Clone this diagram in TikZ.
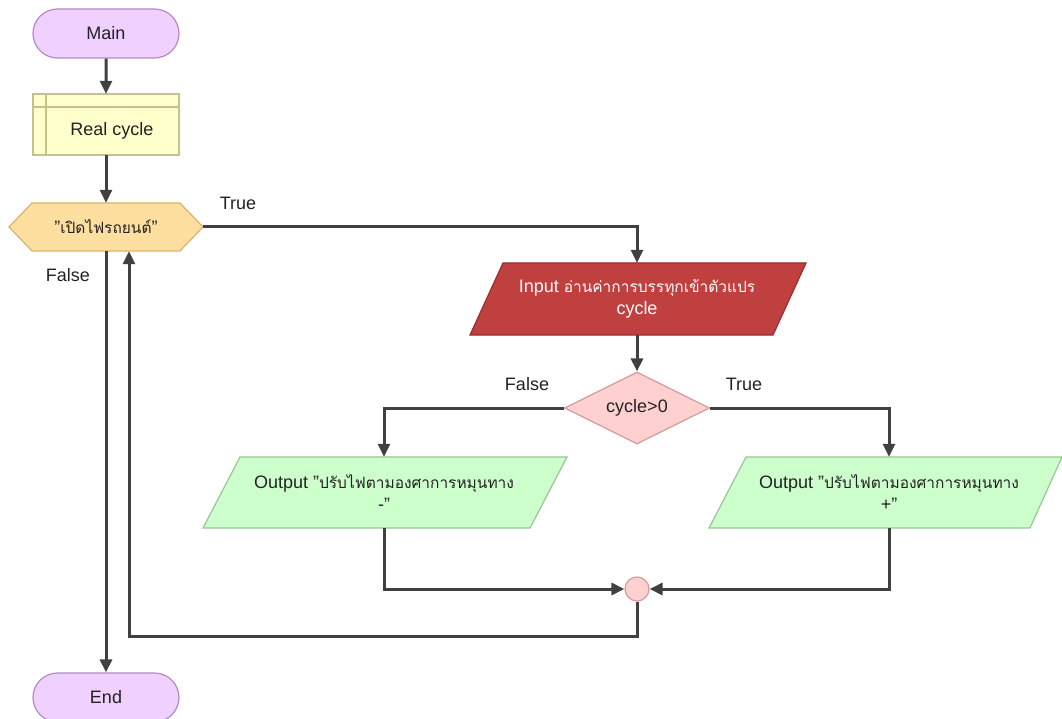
\documentclass[tikz,border=0pt]{standalone}
\usepackage{fontspec}
\setmainfont{Liberation Sans}[Ligatures=ResetAll]
\newfontfamily\thai[Script=Thai,Scale=0.86,Ligatures=ResetAll]{Loma}
\usetikzlibrary{arrows.meta,shapes.geometric,shapes.misc,calc}
\definecolor{ln}{HTML}{404040}
\definecolor{termF}{HTML}{EFD0FF}\definecolor{termD}{HTML}{B08CC0}
\definecolor{procF}{HTML}{FFFFCC}\definecolor{procD}{HTML}{C2C28A}
\definecolor{hexF}{HTML}{FFDF9F}\definecolor{hexD}{HTML}{D8B46C}
\definecolor{inF}{HTML}{C04040}\definecolor{inD}{HTML}{9A2E2E}
\definecolor{decF}{HTML}{FFD0D0}\definecolor{decD}{HTML}{D49A9A}
\definecolor{outF}{HTML}{CCFFCC}\definecolor{outD}{HTML}{98C498}
\definecolor{txt}{HTML}{222222}
\newcommand\dq{\symbol{34}}
\tikzset{
  every node/.style={font=\fontsize{18}{22}\selectfont, text=txt},
  term/.style={rounded rectangle, fill=termF, draw=termD, line width=1.2pt, minimum width=146pt, minimum height=49pt, inner sep=0pt},
  bare/.style={inner sep=0pt, align=center},
  conn/.style={draw=ln, line width=3pt, -{Triangle[length=13pt,width=12pt]}},
  lbl/.style={inner sep=0pt},
  shp/.style={line width=1.2pt},
}
\begin{document}
\begin{tikzpicture}[x=1pt,y=-1pt]
\useasboundingbox (0,0) rectangle (1062,719);
% Main
\node[term] (main) at (106,33.5) {Main};
% Real cycle
\draw[shp, fill=procF, draw=procD] (33,94) rectangle (179,155);
\draw[shp, draw=procD] (46,94) -- (46,155) (33,107) -- (179,107);
\node[bare, minimum width=146pt, minimum height=61pt] (real) at (106,124.5) {};
\node[bare] at (112,131) {Real cycle};
% Hexagon
\draw[shp, fill=hexF, draw=hexD] (9,227) -- (32,203) -- (180,203) -- (203,227) -- (180,251) -- (32,251) -- cycle;
\node[bare, minimum width=194pt, minimum height=48pt] (hex) at (106,227) {\dq{\thai เปิดไฟรถยนต์}\dq};
% Input
\draw[shp, fill=inF, draw=inD] (503,263) -- (806,263) -- (773,335) -- (470,335) -- cycle;
\node[bare, minimum width=300pt, minimum height=72pt, text=white] (in) at (637,299) {Input {\thai อ่านค่าการบรรทุกเข้าตัวแปร}\\cycle};
% Decision
\node[diamond, fill=decF, draw=decD, shp, minimum width=145pt, minimum height=72pt, inner sep=0pt, aspect=2] (dec) at (637,408) {cycle>0};
% Outputs
\draw[shp, fill=outF, draw=outD] (240,457) -- (567,457) -- (530,528) -- (203,528) -- cycle;
\node[bare, minimum width=327pt, minimum height=71pt] (outL) at (384,492.5) {Output \dq{\thai ปรับไฟตามองศาการหมุนทาง}\\-\dq};
\draw[shp, fill=outF, draw=outD] (746,457) -- (1062,457) -- (1030,528) -- (709,528) -- cycle;
\node[bare, minimum width=316pt, minimum height=71pt] (outR) at (889,492.5) {Output \dq{\thai ปรับไฟตามองศาการหมุนทาง}\\+\dq};
% Junction
\node[circle, fill=decF, draw=decD, shp, minimum size=24pt, inner sep=0pt] (junc) at (637,589) {};
% End
\node[term] (end) at (106,697.5) {End};
\coordinate (loop) at (129,636);
% Connectors
\draw[conn] (main) -- (real);
\draw[conn] (real) -- (hex);
\draw[conn] (hex.east) -| (in.north);
\draw[conn] (in.south) -- (dec.north);
\draw[conn] (dec.west) -| (outL.north);
\draw[conn] (dec.east) -| (outR.north);
\draw[conn] (outL.south) |- (junc.west);
\draw[conn] (outR.south) |- (junc.east);
\draw[conn] (junc.south) |- (loop) -- (loop |- hex.south);
\draw[conn] (hex.south) -- (end.north);
% Labels
\node[lbl] at (238,203) {True};
\node[lbl] at (68,275) {False};
\node[lbl] at (527,384) {False};
\node[lbl] at (744,384) {True};
\end{tikzpicture}
\end{document}
